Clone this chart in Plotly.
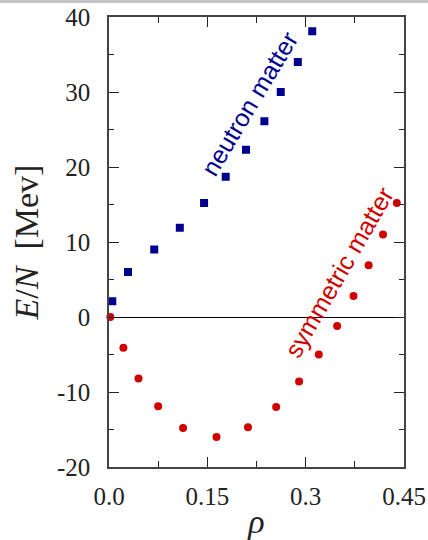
import plotly.graph_objects as go

# Neutron matter (blue squares)
neutron_rho = [0.005, 0.029, 0.069, 0.108, 0.145, 0.178, 0.209, 0.237, 0.262, 0.288, 0.310]
neutron_E = [2.1, 6.0, 9.0, 11.9, 15.2, 18.7, 22.3, 26.1, 30.0, 34.0, 38.1]

# Symmetric matter (red circles)
sym_rho = [0.002, 0.022, 0.045, 0.075, 0.113, 0.164, 0.212, 0.255, 0.290, 0.320,
           0.348, 0.373, 0.396, 0.418, 0.439]
sym_E = [0.0, -4.1, -8.2, -11.9, -14.8, -16.0, -14.7, -12.0, -8.6, -5.0,
         -1.2, 2.8, 6.9, 11.0, 15.2]

x_tickvals = [0.0, 0.15, 0.3, 0.45]
x_ticktext = ["0.0", "0.15", "0.3", "0.45"]
y_tickvals = [-20, -10, 0, 10, 20, 30, 40]
y_ticktext = ["-20", "-10", "0", "10", "20", "30", "40"]

BLUE = "#000090"
RED = "#d00000"
SERIF = "Liberation Serif"
SANS = "Liberation Sans"

fig = go.Figure()
fig.add_trace(go.Scatter(x=neutron_rho, y=neutron_E, mode="markers",
                         marker=dict(symbol="square", size=8, color=BLUE),
                         showlegend=False, cliponaxis=False))
fig.add_trace(go.Scatter(x=sym_rho, y=sym_E, mode="markers",
                         marker=dict(symbol="circle", size=8, color=RED),
                         showlegend=False, cliponaxis=False))

fig.add_annotation(x=0.215, y=28.5, text="neutron matter", showarrow=False,
                   textangle=-59, font=dict(family=SANS, size=25, color=BLUE))
fig.add_annotation(x=0.351, y=6.0, text="symmetric matter", showarrow=False,
                   textangle=-60, font=dict(family=SANS, size=25, color=RED))

# thin gray band at the very top of the page
fig.add_shape(type="rect", xref="paper", yref="paper",
              x0=-0.4, x1=1.1, y0=1.031, y1=1.045,
              fillcolor="#c4c4c4", line=dict(width=0), layer="above")

axis_common = dict(
    showgrid=False, ticks="inside", mirror="ticks", showline=True,
    linecolor="#444444", linewidth=1.5, tickcolor="#222222", tickwidth=1.2,
    tickfont=dict(family=SERIF, size=25, color="#222222"),
    automargin=False,
)

fig.update_xaxes(range=[0, 0.45], tickvals=x_tickvals, ticktext=x_ticktext,
                 ticklen=10, zeroline=False, ticklabelstandoff=6,
                 minor=dict(dtick=0.075, tick0=0, ticklen=6, ticks="inside",
                            tickcolor="#222222"),
                 title=dict(text="<i>ρ</i>", font=dict(family=SERIF, size=34, color="#222222"),
                            standoff=4),
                 **axis_common)
fig.update_yaxes(range=[-20, 40], tickvals=y_tickvals, ticktext=y_ticktext,
                 ticklen=10, zeroline=True, zerolinecolor="black", zerolinewidth=1.2,
                 ticklabelstandoff=12,
                 minor=dict(dtick=5, tick0=0, ticklen=5, ticks="inside",
                            tickcolor="#222222"),
                 title=dict(text="<i>E</i>/<i>N</i>  [Mev]",
                            font=dict(family=SERIF, size=34, color="#222222"),
                            standoff=8),
                 **axis_common)

fig.update_layout(width=428, height=540,
                  margin=dict(l=109, r=24, t=17, b=73),
                  paper_bgcolor="white", plot_bgcolor="white")

fig.write_html("out.html", config={"displayModeBar": False},
               post_script="document.body.style.margin='0';document.body.style.overflow='hidden';")
